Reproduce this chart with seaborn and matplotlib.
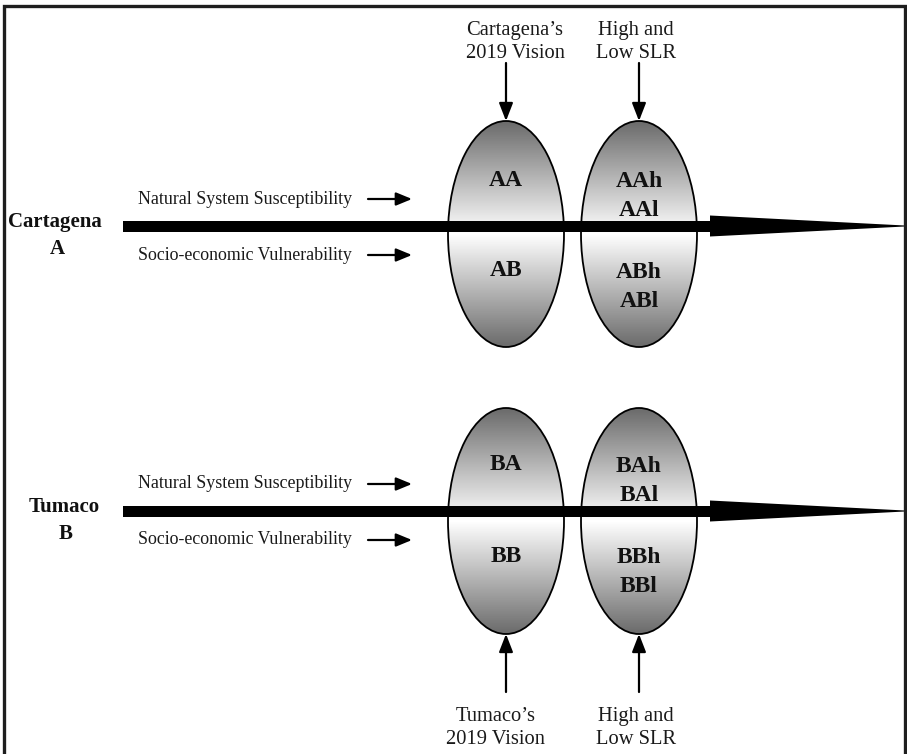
import numpy as np
import pandas as pd
import seaborn as sns
import matplotlib
matplotlib.use("Agg")
import matplotlib.pyplot as plt
from matplotlib.patches import Ellipse, Polygon, Rectangle

# ---- content ----
cities = ["Cartagena", "Tumaco"]
city_codes = ["A", "B"]
inputs = ["Natural System Susceptibility", "Socio-economic Vulnerability"]
vision_labels_top = ["Cartagena\u2019s\n2019 Vision", "High and\nLow SLR"]
vision_labels_bottom = ["Tumaco\u2019s\n2019 Vision", "High and\nLow SLR"]
scenario_first = [["AA", "AB"], ["BA", "BB"]]
scenario_second = [["AAh\nAAl", "ABh\nABl"], ["BAh\nBAl", "BBh\nBBl"]]

# ---- layout (pixel space) ----
W, H = 907, 754
bar_y = [226, 511]
ell_cy = [234, 521]
ell_cx = [506, 639]
ell_w, ell_h = 116, 226
bar_x0, shaft_end, tip_x = 123, 710, 905
bar_half, head_half = 5.5, 10.5

sns.set_theme(style="white")
plt.rcParams['font.family'] = ['Liberation Serif', 'DejaVu Serif']

fig = plt.figure(figsize=(W / 100, H / 100), dpi=100)
ax = fig.add_axes([0, 0, 1, 1])
ax.set_xlim(0, W)
ax.set_ylim(H, 0)
ax.axis('off')

# frame (left, top, right)
ax.plot([4, 4, 905, 905], [H + 5, 6, 6, H + 5], color='#1e1e1e', lw=2.4,
        solid_joinstyle='miter', clip_on=False, zorder=10)

# gradient for ellipses
ny = 200
tvals = np.linspace(-1, 1, ny)
grad = 1 - 0.58 * np.abs(tvals)
grad_img = np.tile(grad[:, None], (1, 4))

for r in range(2):
    cy = ell_cy[r]
    for c in range(2):
        cx = ell_cx[c]
        e = Ellipse((cx, cy), ell_w, ell_h, facecolor='none', edgecolor='black',
                    lw=1.3, zorder=3)
        ax.add_patch(e)
        im = ax.imshow(grad_img, cmap='gray', vmin=0, vmax=1, aspect='auto',
                       extent=(cx - ell_w / 2, cx + ell_w / 2, cy + ell_h / 2, cy - ell_h / 2),
                       interpolation='bilinear', zorder=2)
        im.set_clip_path(e)

    # thick arrow
    by = bar_y[r]
    ax.add_patch(Rectangle((bar_x0, by - bar_half), shaft_end - bar_x0 + 1, 2 * bar_half,
                           facecolor='black', edgecolor='none', zorder=5))
    ax.add_patch(Polygon([(shaft_end, by - head_half), (shaft_end, by + head_half),
                          (tip_x, by + 0.5), (tip_x, by - 0.5)],
                         closed=True, facecolor='black', edgecolor='none', zorder=5))

    # city labels
    ax.text(55 + 9 * r, by - 4, cities[r], ha='center', va='center', fontsize=15,
            fontweight='bold', color='#111111')
    ax.text(57 + 9 * r, by + 23, city_codes[r], ha='center', va='center', fontsize=15,
            fontweight='bold', color='#111111')

    # input labels and small arrows
    for k, dy in enumerate([-27, 29]):
        ty = by + dy
        ax.text(245, ty, inputs[k], ha='center', va='center', fontsize=12.9,
                color='#1a1a1a')
        ax.annotate('', xy=(412, ty), xytext=(368, ty),
                    arrowprops=dict(arrowstyle='-|>,head_length=0.8,head_width=0.33',
                                    color='black', lw=1.6, shrinkA=0, shrinkB=0))

    # scenario labels
    for half, dy in enumerate([-55, 36]):
        ax.text(ell_cx[0], by + dy + 9, scenario_first[r][half], ha='center', va='center',
                fontsize=17, fontweight='bold', color='#111111')
        ax.text(ell_cx[1], by + dy + 25, scenario_second[r][half], ha='center', va='center',
                fontsize=17, fontweight='bold', color='#111111', linespacing=1.55)

# vertical arrows and labels
top_of_top = ell_cy[0] - ell_h / 2
bot_of_bot = ell_cy[1] + ell_h / 2
for c in range(2):
    cx = ell_cx[c]
    ax.annotate('', xy=(cx, top_of_top), xytext=(cx, 63),
                arrowprops=dict(arrowstyle='-|>,head_length=0.9,head_width=0.35',
                                color='black', lw=1.6, shrinkA=0, shrinkB=0))
    ax.annotate('', xy=(cx, bot_of_bot), xytext=(cx, 692),
                arrowprops=dict(arrowstyle='-|>,head_length=0.9,head_width=0.35',
                                color='black', lw=1.6, shrinkA=0, shrinkB=0))
    ax.text(cx + (9 if c == 0 else -3), 42, vision_labels_top[c], ha='center', va='center',
            fontsize=14.8, color='#1a1a1a', linespacing=1.35)
    ax.text(cx + (-10 if c == 0 else -3), 728, vision_labels_bottom[c], ha='center',
            va='center', fontsize=14.8, color='#1a1a1a', linespacing=1.35)

fig.savefig('out.png', dpi=100)
